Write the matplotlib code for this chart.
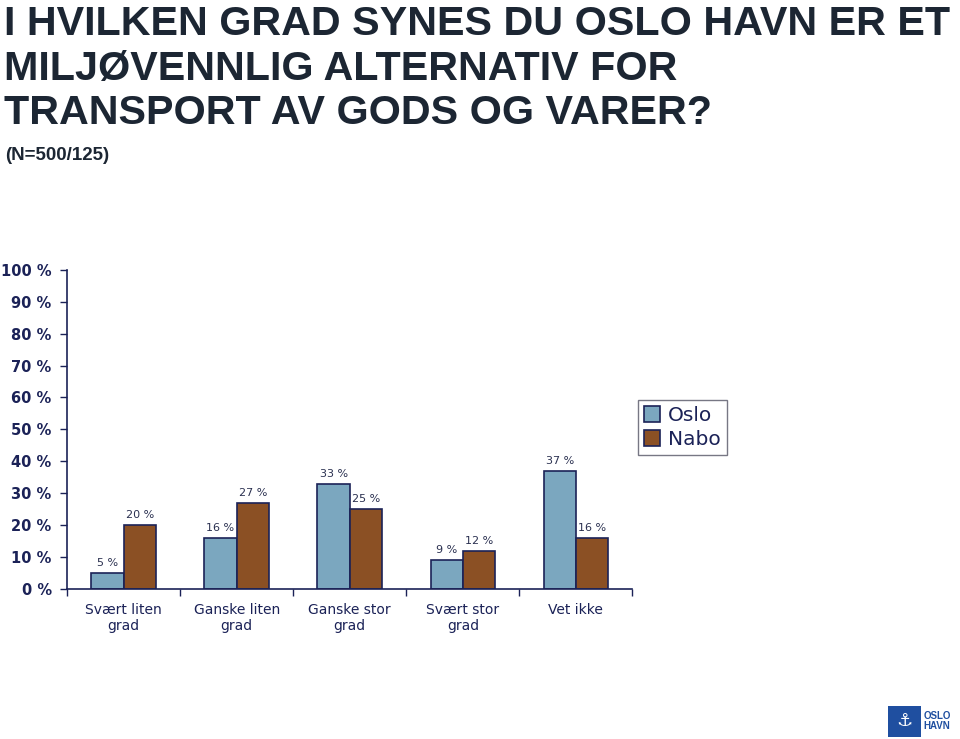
import numpy as np
import matplotlib.pyplot as plt
from matplotlib.patches import Rectangle

categories = ["Svært liten\ngrad", "Ganske liten\ngrad", "Ganske stor\ngrad", "Svært stor\ngrad", "Vet ikke"]
oslo = [5, 16, 33, 9, 37]
nabo = [20, 27, 25, 12, 16]
series_names = ["Oslo", "Nabo"]

title = "I HVILKEN GRAD SYNES DU OSLO HAVN ER ET\nMILJØVENNLIG ALTERNATIV FOR\nTRANSPORT AV GODS OG VARER?"
subtitle = "(N=500/125)"

navy = "#1b2257"
oslo_color = "#7ba7bf"
nabo_color = "#8b5024"

fig = plt.figure(figsize=(9.6, 7.39), dpi=100)
fig.text(0.004, 0.993, title, ha="left", va="top", fontsize=29.7, fontweight="bold",
         family="Liberation Sans", color="#1c2633", linespacing=1.22)
fig.text(0.005, 0.801, subtitle, ha="left", va="top", fontsize=13.5, fontweight="bold",
         family="Liberation Sans", color="#1c2633")

ax = fig.add_axes([0.0698, 0.203, 0.589, 0.432])
x = np.arange(len(categories))
w = 0.285
b1 = ax.bar(x - w / 2, oslo, w, color=oslo_color, edgecolor=navy, linewidth=1.2, label=series_names[0])
b2 = ax.bar(x + w / 2, nabo, w, color=nabo_color, edgecolor=navy, linewidth=1.2, label=series_names[1])

for bars, vals in ((b1, oslo), (b2, nabo)):
    for r, v in zip(bars, vals):
        ax.annotate(f"{v} %", (r.get_x() + r.get_width() / 2, v), xytext=(0, 3.5),
                    textcoords="offset points", ha="center", va="bottom",
                    fontsize=8, family="DejaVu Sans", color="#2a3050")

ax.set_xlim(-0.5, len(categories) - 0.5)
ax.set_ylim(0, 100)
ax.set_yticks(range(0, 101, 10))
ax.set_yticklabels([f"{v} %" for v in range(0, 101, 10)], fontsize=10.5,
                   fontweight="bold", family="DejaVu Sans", color=navy)
ax.set_xticks(x)
ax.set_xticklabels(categories, fontsize=10, family="DejaVu Sans", color=navy)
ax.set_xticks(np.arange(len(categories) + 1) - 0.5, minor=True)
ax.tick_params(axis="x", which="major", length=0, pad=10)
ax.tick_params(axis="x", which="minor", length=5, color=navy, width=1)
ax.tick_params(axis="y", length=5, color=navy, width=1, pad=6)
for s in ("top", "right"):
    ax.spines[s].set_visible(False)
for s in ("left", "bottom"):
    ax.spines[s].set_color(navy)
    ax.spines[s].set_linewidth(1.2)

leg = ax.legend(loc="upper left", bbox_to_anchor=(1.01, 0.592), borderaxespad=0,
                frameon=True, fancybox=False, edgecolor="#555566", fontsize=14.5,
                handlelength=0.8, handleheight=0.8, handletextpad=0.4, borderpad=0.3,
                labelspacing=0.25)
for t in leg.get_texts():
    t.set_color(navy)
leg.get_frame().set_linewidth(1.0)

# logo
fig.patches.append(Rectangle((0.925, 0.003), 0.034, 0.042, transform=fig.transFigure,
                             facecolor="#1f4fa0", edgecolor="none"))
fig.text(0.942, 0.024, "⚓", ha="center", va="center", fontsize=13, color="white",
         family="DejaVu Sans")
fig.text(0.962, 0.024, "OSLO\nHAVN", ha="left", va="center", fontsize=7, fontweight="bold",
         family="Liberation Sans", color="#1f4fa0", linespacing=1.0)

fig.savefig("out.png", dpi=100)
